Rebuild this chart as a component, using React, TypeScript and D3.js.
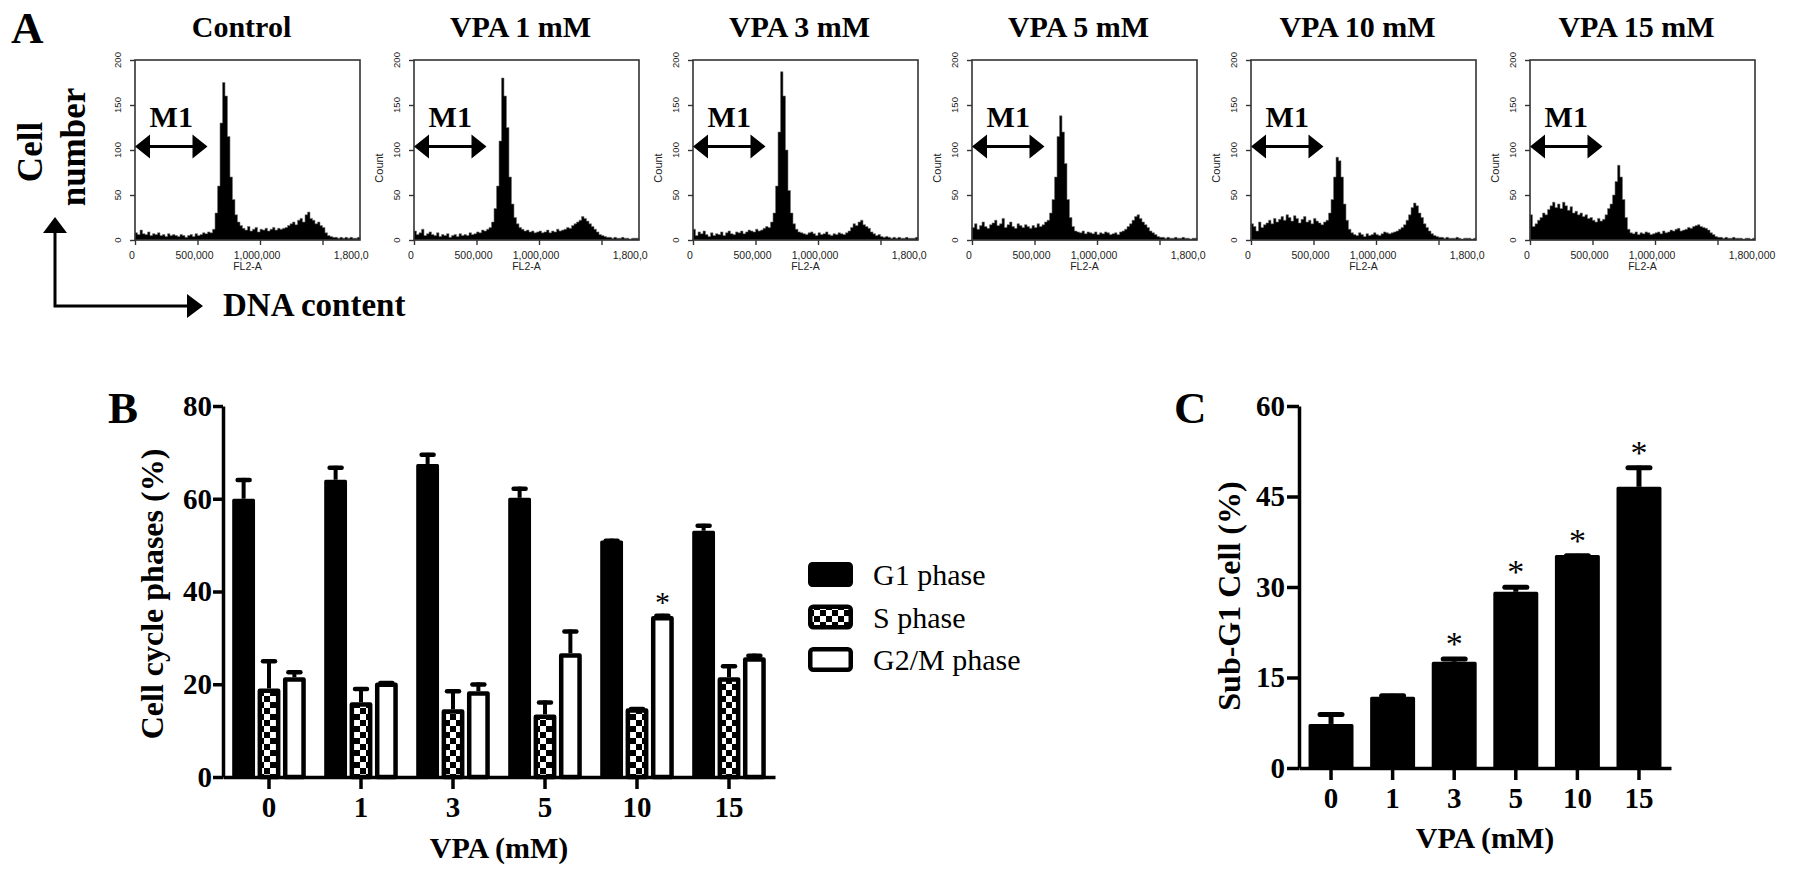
import { useEffect, useRef } from 'react'
import * as d3 from 'd3'

// ---- Panel A: DNA content histograms (counts per 20,000 FL2-A bin) ----
const histTitles = ['Control', 'VPA 1 mM', 'VPA 3 mM', 'VPA 5 mM', 'VPA 10 mM', 'VPA 15 mM']

const histControl = [
  8, 6, 11, 7, 6, 9, 5, 7, 6, 8,
  5, 6, 4, 7, 5, 6, 5, 4, 6, 5,
  3, 5, 6, 4, 7, 5, 6, 8, 7, 9,
  8, 12, 30, 60, 130, 175, 160, 115, 70, 45,
  28, 20, 16, 13, 11, 15, 10, 12, 14, 9,
  12, 11, 13, 10, 12, 14, 11, 13, 12, 13,
  14, 16, 18, 20, 17, 22, 24, 20, 28, 31,
  24, 22, 18, 20, 16, 14, 8, 5, 4, 3,
  3, 2, 3, 2, 3, 2, 3, 2, 2, 3,
]
const histVpa1 = [
  10, 6, 8, 12, 5, 7, 9, 6, 5, 8,
  4, 6, 5, 7, 3, 5, 6, 4, 7, 5,
  6, 5, 8, 6, 7, 9, 8, 11, 10, 12,
  14, 20, 35, 60, 110, 180, 160, 125, 70, 40,
  25, 18, 14, 12, 10, 11, 9, 10, 8, 9,
  10, 8, 9, 11, 8, 10, 9, 12, 10, 11,
  12, 14, 13, 16, 18, 20, 22, 26, 24, 21,
  18, 15, 12, 9, 6, 5, 4, 3, 3, 2,
  3, 2, 2, 3, 2, 2, 1, 2, 2, 2,
]
const histVpa3 = [
  12, 5, 9, 7, 10, 6, 4, 8, 5, 7,
  6, 9, 5, 8, 10, 7, 6, 9, 8, 10,
  7, 9, 11, 10, 9, 12, 10, 11, 13, 15,
  14, 20, 30, 60, 120, 187, 160, 100, 55, 30,
  18, 12, 9, 8, 7, 6, 8, 9, 7, 5,
  8, 6, 7, 9, 6, 5, 7, 6, 8, 7,
  6, 8, 10, 14, 18, 16, 20, 22, 17, 15,
  13, 9, 7, 5, 6, 4, 3, 4, 3, 2,
  3, 2, 3, 2, 2, 3, 2, 2, 2, 3,
]
const histVpa5 = [
  14, 18, 12, 16, 20, 15, 13, 17, 19, 22,
  16, 18, 24, 14, 17, 20, 15, 13, 18, 16,
  14, 17, 15, 13, 16, 14, 18, 15, 17, 20,
  22, 30, 45, 70, 115, 138, 120, 85, 45, 25,
  15, 10, 9, 8, 10, 7, 9, 8, 7, 9,
  6, 8, 7, 9, 8, 6, 7, 8, 6, 9,
  10, 12, 15, 18, 22, 26, 28, 24, 20, 17,
  14, 10, 8, 6, 4, 3, 3, 2, 3, 2,
  2, 3, 2, 2, 3, 2, 2, 1, 2, 2,
]
const histVpa10 = [
  18, 15, 10, 20, 14, 17, 19, 22, 18, 24,
  20, 23, 26, 22, 28, 25, 21, 27, 24, 19,
  23, 26, 20, 22, 18, 24, 21, 19, 17, 20,
  22, 30, 45, 70, 92, 88, 70, 40, 22, 12,
  8, 6, 5, 8, 6, 4, 7, 5, 6, 8,
  6, 5, 7, 9, 8, 7, 8, 9, 10, 12,
  14, 17, 22, 28, 36, 41, 38, 30, 25, 18,
  14, 10, 7, 5, 4, 3, 3, 2, 3, 2,
  2, 2, 3, 2, 1, 2, 2, 2, 1, 2,
]
const histVpa15 = [
  28, 15, 18, 22, 25, 30, 28, 34, 38, 42,
  36, 40, 35, 42, 38, 33, 37, 30, 32, 28,
  30, 26, 28, 24, 25, 22, 20, 24, 21, 23,
  28, 35, 40, 50, 65, 83, 70, 45, 25, 12,
  8, 7, 9, 6, 8, 7, 9, 8, 6, 7,
  8, 9, 7, 10, 8, 9, 11, 10, 12, 13,
  10, 11, 12, 14, 13, 15, 16, 17, 15, 14,
  13, 11, 8, 6, 4, 3, 3, 2, 3, 2,
  2, 3, 2, 2, 2, 1, 2, 2, 1, 2,
]
const histCounts = [histControl, histVpa1, histVpa3, histVpa5, histVpa10, histVpa15]
const binSize = 20000
const fl2Max = 1800000
const fl2Ticks = [0, 500000, 1000000, 1500000]
const fl2Labels = ['0', '500,000', '1,000,000', '']
const countTicks = [0, 50, 100, 150, 200]
const m1Gate = [0, 580000]
const m1Level = 104

// ---- Panel B: cell cycle phases ----
const doses = ['0', '1', '3', '5', '10', '15']
const phaseNames = ['G1 phase', 'S phase', 'G2/M phase']
const g1Mean = [60, 64.1, 67.5, 60.2, 51, 53.1]
const g1Err = [4.5, 3, 2.4, 2.4, 0.4, 1.5]
const sMean = [19.1, 16.1, 14.6, 13.5, 14.8, 21.5]
const sErr = [6.3, 3.3, 4.3, 3.0, 0.3, 2.8]
const g2Mean = [21.5, 20.4, 18.5, 26.7, 34.7, 25.8]
const g2Err = [1.5, 0.3, 1.9, 5.1, 0.5, 0.8]
const g2Sig = [false, false, false, false, true, false]
const phaseTicks = [0, 20, 40, 60, 80]

// ---- Panel C: sub-G1 ----
const subG1Mean = [7.3, 11.8, 17.6, 29.2, 35.3, 46.6]
const subG1Err = [1.9, 0.5, 0.8, 1.1, 0.2, 3.5]
const subG1Sig = [false, false, true, true, true, true]
const subG1Ticks = [0, 15, 30, 45, 60]

const serif = '"Liberation Serif", "Times New Roman", serif'
const sans = '"Liberation Sans", Arial, sans-serif'

export default function App() {
  const svgRef = useRef<SVGSVGElement>(null)

  useEffect(() => {
    if (!svgRef.current) return
    const svg = d3.select(svgRef.current)
    svg.selectAll('*').remove()

    const defs = svg.append('defs')
    const pat = defs
      .append('pattern')
      .attr('id', 'checker')
      .attr('patternUnits', 'userSpaceOnUse')
      .attr('width', 12)
      .attr('height', 12)
    pat.append('rect').attr('width', 12).attr('height', 12).attr('fill', '#fff')
    pat.append('rect').attr('width', 6).attr('height', 6).attr('fill', '#000')
    pat.append('rect').attr('x', 6).attr('y', 6).attr('width', 6).attr('height', 6).attr('fill', '#000')

    // ================= Panel A =================
    svg.append('text').attr('x', 11).attr('y', 43).attr('font-family', serif)
      .attr('font-weight', 'bold').attr('font-size', 45).text('A')

    histCounts.forEach((counts, k) => {
      const left = 135 + k * 279
      const right = left + 225
      const top = 60
      const bottom = 240
      const x = d3.scaleLinear().domain([0, fl2Max]).range([left, right])
      const y = d3.scaleLinear().domain([0, 200]).range([bottom, top])
      const g = svg.append('g')

      const pts: [number, number][] = counts.map((c, i) => [i * binSize, c])
      pts.push([fl2Max, counts[counts.length - 1]])
      const area = d3
        .area<[number, number]>()
        .x((d) => x(d[0]))
        .y0(bottom)
        .y1((d) => y(d[1]))
        .curve(d3.curveStepAfter)
      g.append('path').datum(pts).attr('d', area).attr('fill', '#000')
        .attr('stroke', '#777').attr('stroke-width', 0.6)

      g.append('rect').attr('x', left).attr('y', top).attr('width', right - left)
        .attr('height', bottom - top).attr('fill', 'none').attr('stroke', '#333').attr('stroke-width', 1.6)

      const yAx = g.append('g').attr('transform', `translate(${left},0)`)
        .call(d3.axisLeft(y).tickValues(countTicks).tickSize(5).tickSizeOuter(0).tickFormat(() => ''))
      yAx.select('.domain').remove()
      yAx.selectAll('.tick line').attr('stroke', '#333').attr('stroke-width', 1.4)
      g.selectAll(null).data(countTicks).enter().append('text')
        .attr('transform', (d) => `translate(${left - 14.5},${y(d)}) rotate(-90)`)
        .attr('text-anchor', 'middle').attr('font-family', sans).attr('font-size', 9.5)
        .attr('fill', '#222').text((d) => String(d))

      const xAx = g.append('g').attr('transform', `translate(0,${bottom})`)
        .call(d3.axisBottom(x).tickValues(fl2Ticks).tickSize(5).tickSizeOuter(0).tickFormat(() => ''))
      xAx.select('.domain').remove()
      xAx.selectAll('.tick line').attr('stroke', '#333').attr('stroke-width', 1.4)
      g.selectAll(null).data(fl2Ticks).enter().append('text')
        .attr('x', (d) => x(d) - 3).attr('y', bottom + 19)
        .attr('text-anchor', 'middle').attr('font-family', sans).attr('font-size', 10.5)
        .attr('fill', '#222').text((_, i) => fl2Labels[i])

      // right end label, clipped by neighbouring panel except for the last one
      const endLabel = g.append('text').attr('x', x(fl2Max) - 3).attr('y', bottom + 19)
        .attr('text-anchor', 'middle').attr('font-family', sans).attr('font-size', 10.5)
        .attr('fill', '#222').text('1,800,000')
      if (k < histCounts.length - 1) {
        defs.append('clipPath').attr('id', `clipA${k}`).append('rect')
          .attr('x', left).attr('y', 0).attr('width', right - left + 9).attr('height', 300)
        endLabel.attr('clip-path', `url(#clipA${k})`)
      }

      g.append('text').attr('x', (left + right) / 2).attr('y', bottom + 30)
        .attr('text-anchor', 'middle').attr('font-family', sans).attr('font-size', 10.5)
        .attr('fill', '#222').text('FL2-A')

      if (k > 0) {
        g.append('text').attr('transform', `translate(${left - 31},168) rotate(-90)`)
          .attr('text-anchor', 'middle').attr('font-family', sans).attr('font-size', 11)
          .attr('fill', '#222').text('Count')
      }

      // M1 gate marker
      const ax0 = x(m1Gate[0])
      const ax1 = x(m1Gate[1])
      const ay = y(m1Level)
      const hl = 15
      const hh = 12
      g.append('path')
        .attr('d', `M${ax0},${ay} L${ax0 + hl},${ay - hh} L${ax0 + hl},${ay + hh} Z M${ax1},${ay} L${ax1 - hl},${ay - hh} L${ax1 - hl},${ay + hh} Z`)
        .attr('fill', '#000')
      g.append('line').attr('x1', ax0 + hl - 1).attr('x2', ax1 - hl + 1).attr('y1', ay).attr('y2', ay)
        .attr('stroke', '#000').attr('stroke-width', 3)
      g.append('text').attr('x', (ax0 + ax1) / 2).attr('y', 127).attr('text-anchor', 'middle')
        .attr('font-family', serif).attr('font-weight', 'bold').attr('font-size', 30).text('M1')

      svg.append('text').attr('x', (left + right) / 2 - 6).attr('y', 37).attr('text-anchor', 'middle')
        .attr('font-family', serif).attr('font-weight', 'bold').attr('font-size', 30).text(histTitles[k])
    })

    // Cell number / DNA content arrows
    svg.append('text').attr('transform', 'translate(42,152) rotate(-90)').attr('text-anchor', 'middle')
      .attr('font-family', serif).attr('font-weight', 'bold').attr('font-size', 35).text('Cell')
    svg.append('text').attr('transform', 'translate(85,147) rotate(-90)').attr('text-anchor', 'middle')
      .attr('font-family', serif).attr('font-weight', 'bold').attr('font-size', 35).text('number')
    svg.append('path').attr('d', 'M55,230 L55,306 L190,306').attr('fill', 'none')
      .attr('stroke', '#000').attr('stroke-width', 3)
    svg.append('path').attr('d', 'M55,217 L43,233 L67,233 Z M203,306 L187,294 L187,318 Z').attr('fill', '#000')
    svg.append('text').attr('x', 223).attr('y', 316).attr('font-family', serif)
      .attr('font-weight', 'bold').attr('font-size', 33).text('DNA content')

    // ================= Panel B =================
    const bLeft = 223
    const bRight = 775
    const bTop = 406
    const bBottom = 777
    const yB = d3.scaleLinear().domain([0, 80]).range([bBottom, bTop])
    const x0 = d3.scaleBand<string>().domain(doses).range([bLeft, bRight]).paddingInner(0.2).paddingOuter(0.1)
    const x1 = d3.scaleBand<string>().domain(phaseNames).range([0, x0.bandwidth()]).paddingInner(0.1)
    const gB = svg.append('g')

    const series = [
      { name: phaseNames[0], mean: g1Mean, err: g1Err, fill: '#000', sw: 3 },
      { name: phaseNames[1], mean: sMean, err: sErr, fill: 'url(#checker)', sw: 4.5 },
      { name: phaseNames[2], mean: g2Mean, err: g2Err, fill: '#fff', sw: 4.5 },
    ]
    series.forEach((s) => {
      const bw = x1.bandwidth()
      doses.forEach((dose, i) => {
        const bx = (x0(dose) ?? 0) + (x1(s.name) ?? 0)
        const cx = bx + bw / 2
        const yt = yB(s.mean[i])
        const ye = yB(s.mean[i] + s.err[i])
        gB.append('line').attr('x1', cx).attr('x2', cx).attr('y1', yt).attr('y2', ye)
          .attr('stroke', '#000').attr('stroke-width', 4)
        gB.append('line').attr('x1', cx - 6).attr('x2', cx + 6).attr('y1', ye + 2).attr('y2', ye + 2)
          .attr('stroke', '#000').attr('stroke-width', 4.5).attr('stroke-linecap', 'round')
        gB.append('rect').attr('x', bx + s.sw / 2).attr('y', yt + s.sw / 2)
          .attr('width', bw - s.sw).attr('height', bBottom - yt - s.sw / 2)
          .attr('fill', s.fill).attr('stroke', '#000').attr('stroke-width', s.sw)
          .attr('stroke-linejoin', 'round')
      })
    })
    doses.forEach((dose, i) => {
      if (!g2Sig[i]) return
      const cx = (x0(dose) ?? 0) + (x1(phaseNames[2]) ?? 0) + x1.bandwidth() / 2
      gB.append('text').attr('x', cx).attr('y', yB(g2Mean[i] + g2Err[i]) - 2).attr('text-anchor', 'middle')
        .attr('font-family', serif).attr('font-size', 30).text('*')
    })

    const styleAxis = (sel: d3.Selection<SVGGElement, unknown, null, undefined>, size: number) => {
      sel.attr('font-family', serif).attr('font-weight', 'bold').attr('font-size', size)
      sel.select('.domain').attr('stroke', '#000').attr('stroke-width', 3.5)
      sel.selectAll('.tick line').attr('stroke', '#000').attr('stroke-width', 3.5)
      sel.selectAll('.tick text').attr('fill', '#000')
    }
    const bYAxis = gB.append('g').attr('transform', `translate(${bLeft},0)`)
      .call(d3.axisLeft(yB).tickValues(phaseTicks).tickSize(10).tickSizeOuter(0).tickPadding(1))
    styleAxis(bYAxis, 29)
    const bXAxis = gB.append('g').attr('transform', `translate(0,${bBottom})`)
      .call(d3.axisBottom(x0).tickSize(12).tickSizeOuter(0).tickPadding(7))
    styleAxis(bXAxis, 29)

    gB.append('text').attr('x', (bLeft + bRight) / 2).attr('y', 858).attr('text-anchor', 'middle')
      .attr('font-family', serif).attr('font-weight', 'bold').attr('font-size', 30).text('VPA (mM)')
    gB.append('text').attr('transform', `translate(163,594) rotate(-90)`).attr('text-anchor', 'middle')
      .attr('font-family', serif).attr('font-weight', 'bold').attr('font-size', 32).text('Cell cycle phases (%)')
    svg.append('text').attr('x', 108).attr('y', 423).attr('font-family', serif)
      .attr('font-weight', 'bold').attr('font-size', 45).text('B')

    // legend
    const legend = svg.append('g').attr('transform', 'translate(808,562)')
    series.forEach((s, i) => {
      legend.append('rect').attr('x', s.sw / 2).attr('y', i * 42.5 + s.sw / 2)
        .attr('width', 45 - s.sw).attr('height', 25 - s.sw).attr('rx', 3)
        .attr('fill', s.fill).attr('stroke', '#000').attr('stroke-width', s.sw)
      legend.append('text').attr('x', 65).attr('y', i * 42.5 + 23).attr('font-family', serif)
        .attr('font-size', 30).text(s.name)
    })

    // ================= Panel C =================
    const cLeft = 1299
    const cRight = 1671
    const cTop = 406
    const cBottom = 768
    const yC = d3.scaleLinear().domain([0, 60]).range([cBottom, cTop])
    const xC = d3.scaleBand<string>().domain(doses).range([cLeft, cRight]).paddingInner(0.27).paddingOuter(0.155)
    const gC = svg.append('g')
    doses.forEach((dose, i) => {
      const bx = xC(dose) ?? 0
      const bw = xC.bandwidth()
      const cx = bx + bw / 2
      const yt = yC(subG1Mean[i])
      const ye = yC(subG1Mean[i] + subG1Err[i])
      gC.append('line').attr('x1', cx).attr('x2', cx).attr('y1', yt).attr('y2', ye)
        .attr('stroke', '#000').attr('stroke-width', 5)
      gC.append('line').attr('x1', cx - 11).attr('x2', cx + 11).attr('y1', ye + 2).attr('y2', ye + 2)
        .attr('stroke', '#000').attr('stroke-width', 5).attr('stroke-linecap', 'round')
      gC.append('rect').attr('x', bx + 1.5).attr('y', yt + 1.5).attr('width', bw - 3)
        .attr('height', cBottom - yt - 1.5).attr('fill', '#000').attr('stroke', '#000')
        .attr('stroke-width', 3).attr('stroke-linejoin', 'round')
      if (subG1Sig[i]) {
        gC.append('text').attr('x', cx).attr('y', ye - 2).attr('text-anchor', 'middle')
          .attr('font-family', serif).attr('font-size', 34).text('*')
      }
    })
    const cYAxis = gC.append('g').attr('transform', `translate(${cLeft},0)`)
      .call(d3.axisLeft(yC).tickValues(subG1Ticks).tickSize(12).tickSizeOuter(0).tickPadding(2))
    styleAxis(cYAxis, 29)
    const cXAxis = gC.append('g').attr('transform', `translate(0,${cBottom})`)
      .call(d3.axisBottom(xC).tickSize(12).tickSizeOuter(0).tickPadding(7))
    styleAxis(cXAxis, 29)
    gC.append('text').attr('x', (cLeft + cRight) / 2).attr('y', 848).attr('text-anchor', 'middle')
      .attr('font-family', serif).attr('font-weight', 'bold').attr('font-size', 30).text('VPA (mM)')
    gC.append('text').attr('transform', `translate(1240,596) rotate(-90)`).attr('text-anchor', 'middle')
      .attr('font-family', serif).attr('font-weight', 'bold').attr('font-size', 32).text('Sub-G1 Cell (%)')
    svg.append('text').attr('x', 1174).attr('y', 423).attr('font-family', serif)
      .attr('font-weight', 'bold').attr('font-size', 45).text('C')
  }, [])

  return (
    <svg
      ref={svgRef}
      width={1795}
      height={874}
      style={{ position: 'absolute', left: 0, top: 0, background: '#fff' }}
    ></svg>
  )
}
